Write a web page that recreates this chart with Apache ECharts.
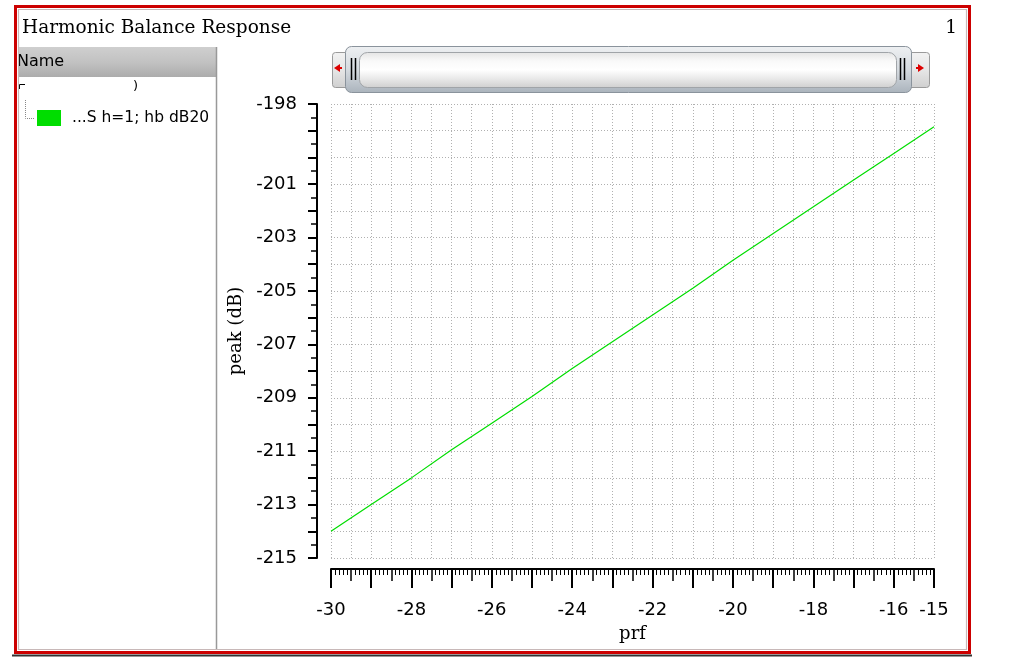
<!DOCTYPE html>
<html>
<head>
<meta charset="utf-8">
<script src="https://cdn.jsdelivr.net/npm/echarts@6/dist/echarts.min.js"></script>
<style>
html,body{margin:0;padding:0;background:#fff;}
#main{width:1013px;height:660px;}
</style>
</head>
<body>
<div id="main"></div>
<script>
// ---- data ----
const prf = [-30, -29, -28, -27, -26, -25, -24, -23, -22, -21, -20, -19, -18, -17, -16, -15];
const peak = [-214.0, -213.0, -212.0, -210.95, -209.95, -208.95, -207.9, -206.9, -205.9, -204.9, -203.85, -202.85, -201.85, -200.85, -199.85, -198.85];
const xTickLabels = [-30, -28, -26, -24, -22, -20, -18, -16, -15];
const yTickLabels = [-215, -213, -211, -209, -207, -205, -203, -201, -198];
const seriesName = '...S h=1; hb dB20(';
const chartTitle = 'Harmonic Balance Response';
const xName = 'prf';
const yName = 'peak (dB)';

const points = prf.map((x, i) => [x, peak[i]]);
const GREEN = '#00dd00';
const SANS = 'DejaVu Sans';
const SERIF = 'DejaVu Serif';

const chart = echarts.init(document.getElementById('main'), null, {renderer: 'canvas'});

const grad = (stops) => new echarts.graphic.LinearGradient(0, 0, 0, 1, stops.map((c, i) => ({offset: i / (stops.length - 1), color: c})));

const graphics = [
  // outer frame
  {type: 'rect', shape: {x: 15.5, y: 6.5, width: 954, height: 646}, style: {fill: null, stroke: '#cc0000', lineWidth: 3}, z: 10},
  {type: 'rect', shape: {x: 18.5, y: 9.5, width: 948, height: 640}, style: {fill: null, stroke: '#c8b8b8', lineWidth: 1.2}, z: 10},
  {type: 'line', shape: {x1: 12, y1: 655.5, x2: 972, y2: 655.5}, style: {stroke: '#333', lineWidth: 2}, z: 10},
  // title
  {type: 'text', x: 22, y: 28, style: {text: chartTitle, font: '18.5px "' + SERIF + '"', fill: '#000', textVerticalAlign: 'middle'}, z: 10},
  {type: 'text', x: 957, y: 28, style: {text: '1', font: '18.5px "' + SERIF + '"', fill: '#000', textAlign: 'right', textVerticalAlign: 'middle'}, z: 10},
  // left panel header
  {type: 'rect', shape: {x: 18, y: 47, width: 198, height: 30}, style: {fill: grad(['#cfcfcf', '#c2c2c2', '#acacac']), stroke: null}, z: 5},
  {type: 'text', x: 17, y: 62, style: {text: 'Name', font: '16px "' + SANS + '"', fill: '#000', textVerticalAlign: 'middle'}, z: 6},
  {type: 'line', shape: {x1: 216.5, y1: 47, x2: 216.5, y2: 650}, style: {stroke: '#999', lineWidth: 1.5}, z: 6},
  // partial row
  {type: 'polyline', shape: {points: [[19.5, 89], [19.5, 84.5], [25, 84.5]]}, style: {stroke: '#000', lineWidth: 1, fill: null}, z: 6},
  {type: 'text', x: 133, y: 87, style: {text: ')', font: '13px "' + SANS + '"', fill: '#000', textVerticalAlign: 'middle'}, z: 6},
  // tree line
  {type: 'polyline', shape: {points: [[25.5, 100], [25.5, 118.5], [34, 118.5]]}, style: {stroke: '#888', lineWidth: 1, lineDash: [1, 1], fill: null}, z: 6},
  {type: 'rect', shape: {x: 37, y: 110, width: 24, height: 16}, style: {fill: GREEN}, z: 6},
  {type: 'text', x: 72, y: 118, style: {text: seriesName, font: '15.5px "' + SANS + '"', fill: '#000', textVerticalAlign: 'middle', width: 143, overflow: 'truncate', ellipsis: ''}, z: 6},
  // scrollbar: left button
  {type: 'rect', shape: {x: 332.5, y: 52.5, width: 30, height: 35, r: 3}, style: {fill: grad(['#f2f2f2', '#e6e6e6', '#cfcfcf']), stroke: '#9a9a9a', lineWidth: 1}, z: 5},
  {type: 'polygon', shape: {points: [[334, 68], [340, 64], [340, 72]]}, style: {fill: '#dd0000'}, z: 7},
  {type: 'rect', shape: {x: 339, y: 67, width: 3, height: 2}, style: {fill: '#dd0000'}, z: 7},
  // right button
  {type: 'rect', shape: {x: 900.5, y: 52.5, width: 29, height: 35, r: 3}, style: {fill: grad(['#f2f2f2', '#e6e6e6', '#cfcfcf']), stroke: '#9a9a9a', lineWidth: 1}, z: 5},
  {type: 'polygon', shape: {points: [[924, 68], [918, 64], [918, 72]]}, style: {fill: '#dd0000'}, z: 7},
  {type: 'rect', shape: {x: 916, y: 67, width: 3, height: 2}, style: {fill: '#dd0000'}, z: 7},
  // thumb
  {type: 'rect', shape: {x: 345.5, y: 46.5, width: 566, height: 46, r: 6}, style: {fill: grad(['#eef0f2', '#d6dbe0', '#aab3bc']), stroke: '#8a939c', lineWidth: 1}, z: 6},
  {type: 'rect', shape: {x: 359.5, y: 52.5, width: 537, height: 35, r: 8}, style: {fill: grad(['#e4e4e4', '#f9f9f9', '#ffffff', '#e8e8e8', '#cfcfcf']), stroke: '#a0a4a8', lineWidth: 1}, z: 7},
  {type: 'line', shape: {x1: 351.5, y1: 58, x2: 351.5, y2: 80}, style: {stroke: '#000', lineWidth: 1.5}, z: 8},
  {type: 'line', shape: {x1: 355.5, y1: 58, x2: 355.5, y2: 80}, style: {stroke: '#000', lineWidth: 1.5}, z: 8},
  {type: 'line', shape: {x1: 900.5, y1: 58, x2: 900.5, y2: 80}, style: {stroke: '#000', lineWidth: 1.5}, z: 8},
  {type: 'line', shape: {x1: 904.5, y1: 58, x2: 904.5, y2: 80}, style: {stroke: '#000', lineWidth: 1.5}, z: 8}
];

const gridLine = {show: true, lineStyle: {color: '#b0b0b0', type: [1, 2], width: 1}};
const axisFont = {color: '#000', fontFamily: SANS, fontSize: 18};

chart.setOption({
  animation: false,
  backgroundColor: '#fff',
  graphic: graphics,
  grid: {left: 331, top: 104, width: 603, height: 454, containLabel: false},
  xAxis: [
    {
      type: 'value', min: -30, max: -15, interval: 0.5, offset: 11,
      name: xName, nameLocation: 'middle', nameGap: 56,
      nameTextStyle: {fontFamily: SERIF, fontSize: 18, color: '#000'},
      axisLine: {show: true, onZero: false, lineStyle: {color: '#000', width: 2}},
      axisTick: {show: true, length: 12, lineStyle: {color: '#000', width: 1.5}},
      minorTick: {show: true, splitNumber: 5, length: 6, lineStyle: {color: '#000', width: 1}},
      axisLabel: Object.assign({show: true, margin: 32, customValues: xTickLabels, formatter: v => String(v)}, axisFont),
      splitLine: gridLine
    },
    {
      type: 'value', min: -30, max: -15, interval: 1, offset: 11, position: 'bottom',
      axisLine: {show: false, onZero: false},
      axisTick: {show: true, length: 19, lineStyle: {color: '#000', width: 2}},
      axisLabel: {show: false},
      splitLine: {show: false}
    }
  ],
  yAxis: {
    type: 'value', min: -215, max: -198, interval: 1, offset: 14, position: 'left',
    name: yName, nameLocation: 'middle', nameGap: 68, nameRotate: 90,
    nameTextStyle: {fontFamily: SERIF, fontSize: 18, color: '#000'},
    axisLine: {show: true, onZero: false, lineStyle: {color: '#000', width: 2}},
    axisTick: {show: true, length: 9, lineStyle: {color: '#000', width: 2}},
    minorTick: {show: true, splitNumber: 2, length: 6, lineStyle: {color: '#000', width: 1.5}},
    axisLabel: Object.assign({show: true, margin: 20, customValues: yTickLabels, formatter: v => String(v)}, axisFont),
    splitLine: gridLine
  },
  series: [{
    type: 'line', name: seriesName, data: points, xAxisIndex: 0,
    showSymbol: false, symbol: 'none',
    lineStyle: {color: GREEN, width: 1.2},
    itemStyle: {color: GREEN}
  }]
});
</script>
</body>
</html>
